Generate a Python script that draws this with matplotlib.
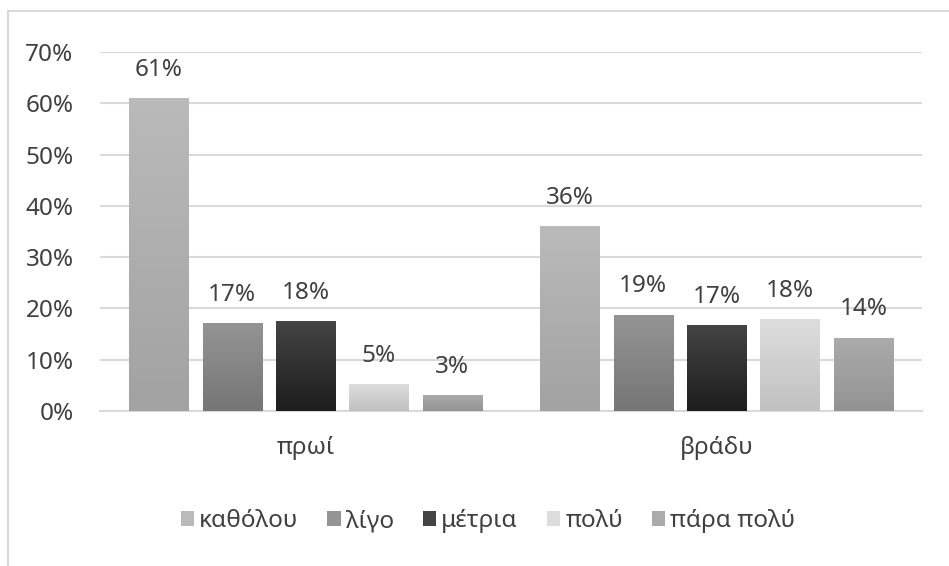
"""Grouped bar chart: πρωί / βράδυ by level."""

import numpy as np
import matplotlib
matplotlib.use("Agg")
import matplotlib.pyplot as plt
from matplotlib.patches import Rectangle
from matplotlib.colors import LinearSegmentedColormap

plt.rcParams["font.family"] = ["Noto Sans", "DejaVu Sans"]

categories = ["πρωί", "βράδυ"]
levels = ["καθόλου", "λίγο", "μέτρια", "πολύ", "πάρα πολύ"]
values = {
    "καθόλου": [0.61, 0.36],
    "λίγο": [0.172, 0.188],
    "μέτρια": [0.176, 0.168],
    "πολύ": [0.052, 0.179],
    "πάρα πολύ": [0.031, 0.143],
}
yticks = [0, 0.1, 0.2, 0.3, 0.4, 0.5, 0.6, 0.7]

# gradient (top, bottom) per level
grad = {
    "καθόλου": ("#bababa", "#a2a2a2"),
    "λίγο": ("#949494", "#767676"),
    "μέτρια": ("#444444", "#1d1d1d"),
    "πολύ": ("#dddddd", "#c1c1c1"),
    "πάρα πολύ": ("#ababab", "#939393"),
}
text_color = "#404040"
fs = 17.5

W, H = 949, 566
fig = plt.figure(figsize=(W / 100, H / 100), dpi=100)

# outer chart frame (cut at right/bottom)
fig.patches.append(Rectangle((8 / W, -0.1), 1.2, 1 - 10.5 / H + 0.1,
                             transform=fig.transFigure, fill=False,
                             edgecolor="#d9d9d9", linewidth=1.5))

ax = fig.add_axes([100 / W, (H - 411) / H, 822 / W, 359 / H])

x = np.arange(len(categories))
pitch = 0.1788
width = 0.1436
for i, lev in enumerate(levels):
    pos = x + (i - 2) * pitch
    top, bot = grad[lev]
    bars = ax.bar(pos, values[lev], width, color=top, label=lev, zorder=2)
    cmap = LinearSegmentedColormap.from_list(lev, [bot, top])
    g = np.linspace(0, 1, 64).reshape(-1, 1)
    for b, v in zip(bars, values[lev]):
        x0 = b.get_x()
        im = ax.imshow(g, cmap=cmap, origin="lower", aspect="auto",
                       extent=(x0, x0 + b.get_width(), 0, v), zorder=3)
        im.set_clip_path(b)
        ax.annotate(f"{v * 100:.0f}%", (b.get_x() + b.get_width() / 2, v),
                    xytext=(0, 16), textcoords="offset points",
                    ha="center", va="baseline", fontsize=fs, color=text_color)

ax.set_xlim(-0.5, 1.5)
ax.set_ylim(0, 0.7)
ax.set_xticks(x)
ax.set_xticklabels(categories, fontsize=fs, color=text_color)
ax.set_yticks(yticks)
ax.set_yticklabels([f"{int(round(t * 100))}%" for t in yticks],
                   fontsize=fs, color=text_color)
ax.tick_params(length=0)
ax.tick_params(axis="x", pad=18)
ax.tick_params(axis="y", pad=19)
ax.grid(axis="y", color="#d9d9d9", linewidth=1.5, zorder=0)
ax.set_axisbelow(True)
for s in ["top", "right", "left"]:
    ax.spines[s].set_visible(False)
ax.spines["bottom"].set_color("#d9d9d9")
ax.spines["bottom"].set_linewidth(1.5)

handles, labels = ax.get_legend_handles_labels()
leg = fig.legend(handles, labels, loc="center", bbox_to_anchor=(488 / W, (H - 521) / H),
                 ncol=5, frameon=False, fontsize=fs, handlelength=0.55, handleheight=0.55,
                 handletextpad=0.2, columnspacing=1.2)
for t in leg.get_texts():
    t.set_color(text_color)

plt.savefig("out.png", dpi=100)
plt.close()
